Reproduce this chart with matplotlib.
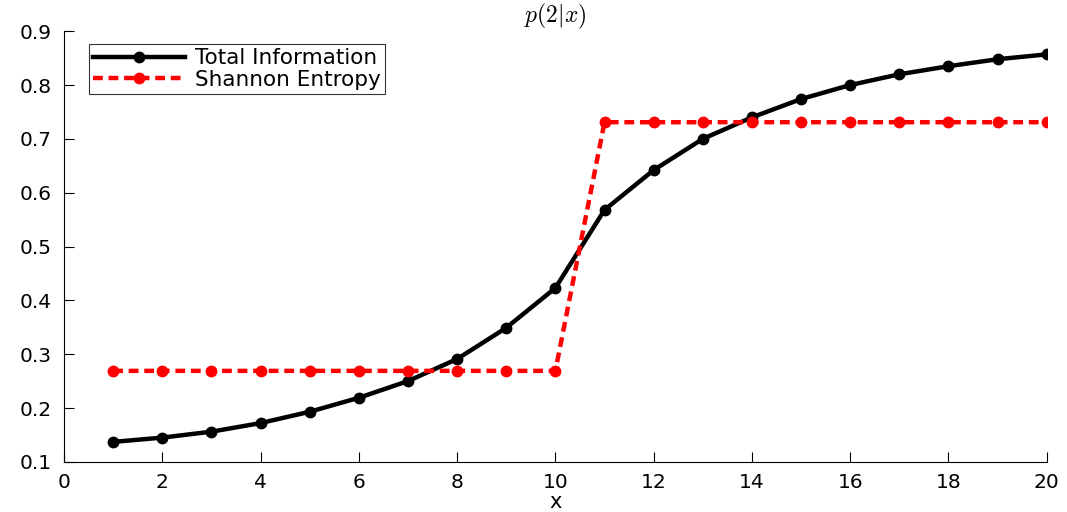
import numpy as np
import matplotlib.pyplot as plt

plt.rcParams['font.family'] = ['DejaVu Sans']
plt.rcParams['mathtext.fontset'] = 'cm'

# data
x = np.arange(1, 21)
total_info = [0.137, 0.145, 0.156, 0.172, 0.193, 0.219, 0.250, 0.291, 0.349, 0.423,
              0.568, 0.642, 0.700, 0.740, 0.774, 0.800, 0.820, 0.835, 0.848, 0.857]
shannon = [0.269] * 10 + [0.731] * 10

fig = plt.figure(figsize=(10.67, 5.12), dpi=100)
ax = fig.add_axes([0.060, 0.098, 0.921, 0.841])

ax.plot(x, total_info, color='black', linewidth=3.2, marker='o', markersize=7.5,
        label='Total Information')
ax.plot(x, shannon, color='red', linewidth=3.2, marker='o', markersize=7.5,
        linestyle=(0, (2.2, 1.3)), label='Shannon Entropy')

ax.set_xlim(0, 20)
ax.set_ylim(0.1, 0.9)
ax.set_xticks(np.arange(0, 21, 2))
ax.set_yticks(np.arange(0.1, 0.91, 0.1))
ax.set_yticklabels(['%.1f' % v for v in np.arange(0.1, 0.91, 0.1)])
ax.tick_params(direction='in', labelsize=14.5, length=7, width=0.8)
ax.tick_params(axis='x', pad=8)
ax.tick_params(axis='y', pad=9)
ax.spines['top'].set_visible(False)
ax.spines['right'].set_visible(False)

ax.set_xlabel('x', fontsize=15, labelpad=0)
ax.set_title(r'$p(2|x)$', fontsize=17, pad=5)

leg = ax.legend(loc='upper left', bbox_to_anchor=(0.025, 0.970), borderaxespad=0,
                fontsize=15.5, frameon=True, fancybox=False, edgecolor='black',
                handlelength=4.3, handletextpad=0.45, borderpad=0.2,
                labelspacing=0.05)
leg.get_frame().set_linewidth(0.8)

fig.savefig('out.png', dpi=100)
